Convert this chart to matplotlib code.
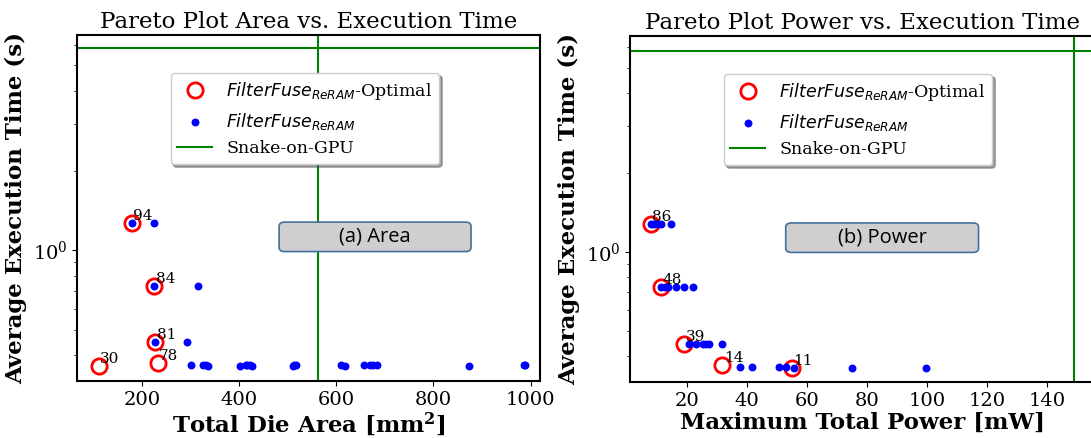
import numpy as np
import matplotlib
matplotlib.use("Agg")
import matplotlib.pyplot as plt
from matplotlib.patches import FancyBboxPatch
from matplotlib.ticker import NullFormatter, MultipleLocator

plt.rcParams["font.family"] = "DejaVu Serif"

# --- data ---
gpu_time = 5.8
gpu_area = 562
gpu_power = 149

# Pareto-optimal points
opt_area = [179, 225.5, 227.6, 232.4, 111]
opt_power = [8.0, 11.3, 19.1, 31.9, 55.1]
opt_time_area = [1.27, 0.732, 0.449, 0.373, 0.364]
opt_time_power = [1.27, 0.732, 0.447, 0.371, 0.362]
opt_lab_area = ["94", "84", "81", "78", "30"]
opt_lab_power = ["86", "48", "39", "14", "11"]

# all design points
area_x = [179, 225, 225.5, 316, 227.6, 292,
          302, 325.5, 332.4, 336, 402, 414, 417, 423, 427, 510, 514, 517,
          609, 618, 658, 670, 675, 684, 873, 986, 989]
area_y = [1.27, 1.27, 0.732, 0.732, 0.449, 0.449,
          0.366, 0.368, 0.366, 0.365, 0.365, 0.367, 0.367, 0.366, 0.365, 0.365, 0.367, 0.368,
          0.368, 0.365, 0.368, 0.366, 0.367, 0.366, 0.365, 0.366, 0.366]

power_x = [8.1, 9.2, 10.3, 11.4, 14.8,
           11.3, 12.6, 13.7, 16.4, 19.2, 22.0,
           20.8, 23.1, 25.3, 26.3, 27.3, 31.9,
           37.6, 41.6, 50.8, 53.1, 55.8, 75.2, 99.6]
power_y = [1.27] * 5 + [0.732] * 6 + [0.447] * 6 + [0.366, 0.366, 0.366, 0.366, 0.362, 0.362, 0.362]

fig = plt.figure(figsize=(10.91, 4.38), dpi=100)
ax1 = fig.add_axes([0.0710, 0.1290, 0.4239, 0.7911])
ax2 = fig.add_axes([0.5775, 0.1272, 0.4259, 0.7907])


def panel(ax, xs, ys, ox, oy, labs, gx, title, xlabel, boxtext, box_x, leg_x):
    ax.plot(ox, oy, "o", ms=11, mfc="none", mec="red", mew=2,
            label=r"$FilterFuse_{ReRAM}$-Optimal", zorder=3)
    ax.scatter(xs, ys, s=22, color="blue", label=r"$FilterFuse_{ReRAM}$", zorder=4)
    ax.axhline(gpu_time, color="green", lw=1.5, label="Snake-on-GPU")
    ax.axvline(gx, color="green", lw=1.5)
    for x, y, t in zip(ox, oy, labs):
        ax.annotate(t, (x, y), xytext=(1, 0), textcoords="offset points",
                    fontsize=11, ha="left", va="bottom", zorder=5)
    ax.set_yscale("log")
    ax.yaxis.set_minor_formatter(NullFormatter())
    ax.set_title(title, fontsize=16.5, pad=5)
    ax.set_xlabel(xlabel, fontsize=16.5, fontweight="bold", labelpad=1)
    ax.set_ylabel("Average Execution Time (s)", fontsize=16.5, fontweight="bold")
    ax.tick_params(labelsize=14)
    for s in ax.spines.values():
        s.set_linewidth(1.5)
    ax.legend(loc="upper left", bbox_to_anchor=(leg_x, 0.905), fontsize=12.5,
              shadow=True, fancybox=True, framealpha=1, borderaxespad=0.3)
    box = FancyBboxPatch((box_x, 0.375), 0.415, 0.085, transform=ax.transAxes,
                         boxstyle="round,pad=0,rounding_size=0.012",
                         fc="#d0cece", ec="#41719c", lw=1.2, zorder=6)
    ax.add_patch(box)
    ax.text(box_x + 0.2075, 0.4175, boxtext, transform=ax.transAxes,
            ha="center", va="center", fontsize=14.5, family="Open Sans", zorder=7)


panel(ax1, area_x, area_y, opt_area, opt_time_area, opt_lab_area, gpu_area,
      "Pareto Plot Area vs. Execution Time",
      r"Total Die Area [mm$\mathdefault{^2}$]", "(a) Area", 0.436, 0.19)
ax1.set_xlim(67.6, 1019)
ax1.set_ylim(0.318, 6.52)
ax1.xaxis.set_major_locator(MultipleLocator(200))

panel(ax2, power_x, power_y, opt_power, opt_time_power, opt_lab_power, gpu_power,
      "Pareto Plot Power vs. Execution Time",
      "Maximum Total Power [mW]", "(b) Power", 0.335, 0.19)
ax2.set_xlim(1.1, 156)
ax2.set_ylim(0.319, 6.61)
ax2.xaxis.set_major_locator(MultipleLocator(20))

fig.savefig("out.png", dpi=100)
